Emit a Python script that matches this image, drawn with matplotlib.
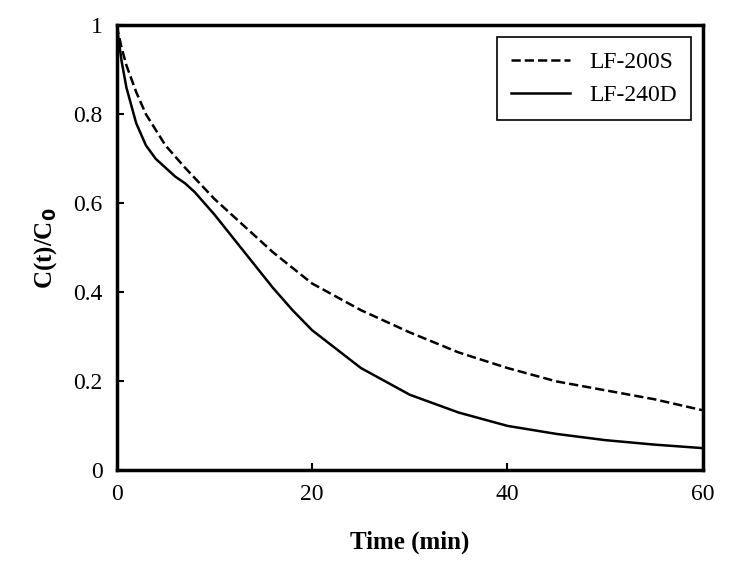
import matplotlib
matplotlib.use("Agg")
import matplotlib.pyplot as plt

t_s = [0, 0.5, 1, 2, 3, 5, 7, 10, 13, 16, 20, 25, 30, 35, 40, 45, 50, 55, 60]
c_s = [1.0, 0.95, 0.91, 0.85, 0.80, 0.73, 0.68, 0.61, 0.55, 0.49, 0.42, 0.36, 0.31, 0.265, 0.23, 0.20, 0.18, 0.16, 0.135]
t_d = [0, 0.5, 1, 2, 3, 4, 5, 6, 7, 8, 9, 10, 12, 14, 16, 18, 20, 25, 30, 35, 40, 45, 50, 55, 60]
c_d = [1.0, 0.92, 0.86, 0.78, 0.73, 0.70, 0.68, 0.66, 0.645, 0.625, 0.60, 0.575, 0.52, 0.465, 0.41, 0.36, 0.315, 0.23, 0.17, 0.13, 0.10, 0.082, 0.068, 0.058, 0.05]
xticks = [0, 20, 40, 60]
yticks = [0, 0.2, 0.4, 0.6, 0.8, 1]
ylabels = ["0", "0.2", "0.4", "0.6", "0.8", "1"]

plt.rcParams['font.family'] = ['Liberation Serif', 'DejaVu Serif']
fig = plt.figure(figsize=(7.43, 5.88), dpi=100)
ax = fig.add_axes([0.157, 0.2, 0.789, 0.757])
ax.plot(t_s, c_s, 'k--', lw=1.8, label='LF-200S')
ax.plot(t_d, c_d, 'k-', lw=1.8, label='LF-240D')
ax.set_xlim(0, 60)
ax.set_ylim(0, 1)
ax.set_xticks(xticks)
ax.set_yticks(yticks)
ax.set_yticklabels(ylabels)
ax.tick_params(direction='in', labelsize=17, length=5, width=1.5, pad=10)
for s in ax.spines.values():
    s.set_linewidth(2.5)
ax.set_xlabel('Time (min)', fontsize=18, fontweight='bold', labelpad=18)
ax.set_ylabel(r'C(t)/C$_\mathbf{0}$', fontsize=18, fontweight='bold', labelpad=10)
leg = ax.legend(loc='upper right', fontsize=17, fancybox=False, edgecolor='black',
                handlelength=2.5, borderpad=0.6, framealpha=1)
leg.get_frame().set_linewidth(1.2)
fig.savefig('out.png', dpi=100)
